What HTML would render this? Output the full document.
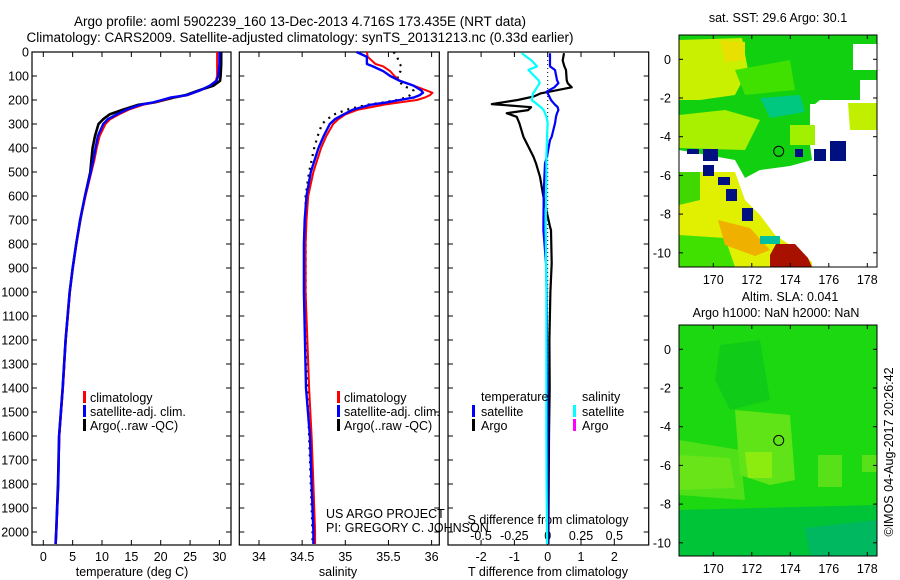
<!DOCTYPE html>
<html><head><meta charset="utf-8">
<style>
html,body{margin:0;padding:0;background:#fff;}
svg{display:block;font-family:"Liberation Sans",sans-serif;}
text{font-size:12.5px;fill:#000;}
</style></head>
<body>
<svg id="fig" width="900" height="580" viewBox="0 0 900 580" xmlns="http://www.w3.org/2000/svg">
<text x="300" y="26" text-anchor="middle" style="font-size:13.5px">Argo profile: aoml 5902239_160 13-Dec-2013 4.716S 173.435E (NRT data)</text>
<text x="300" y="42" text-anchor="middle" style="font-size:13.5px">Climatology: CARS2009. Satellite-adjusted climatology: synTS_20131213.nc (0.33d earlier)</text>

<g>
<text x="778" y="22" text-anchor="middle">sat. SST: 29.6 Argo: 30.1</text>
<rect x="679" y="35" width="198" height="232" fill="#fff"/>
<polygon fill="#10d010" points="679,35 877,35 877,44 853,44 853,70 877,70 877,80 860,80 860,100 820,100 815,104 810,104 810,125 790,125 790,145 810,145 812,160 790,166 760,170 745,178 735,160 679,150"/>
<polygon fill="#c8f000" points="679,40 742,38 748,70 735,95 700,100 679,100"/>
<polygon fill="#e8e000" points="720,40 745,42 745,60 725,62"/>
<polygon fill="#a8f000" points="679,115 725,110 760,120 745,150 679,148"/>
<polygon fill="#00c880" points="760,98 800,95 805,112 770,118"/>
<polygon fill="#40e000" points="735,70 790,60 795,90 745,95"/>
<polygon fill="#c0f000" points="848,103 877,103 877,130 850,130"/>
<polygon fill="#a0f000" points="790,125 815,125 815,145 790,145"/>
<polygon fill="#e0f000" points="679,172 735,172 745,200 760,215 775,235 790,245 812,262 812,267 679,267"/>
<polygon fill="#40e000" points="679,235 725,238 735,267 679,267"/>
<polygon fill="#40d800" points="679,172 700,172 700,200 679,205"/>
<polygon fill="#f0b000" points="718,220 750,228 770,250 755,256 725,245"/>
<polygon fill="#00c0a0" points="760,236 780,236 780,244 760,244"/>
<polygon fill="#a81000" points="776,244 795,244 808,258 812,267 770,267 770,255"/>
<g fill="#001080">
<rect x="687" y="149" width="12" height="5"/><rect x="703" y="149" width="15" height="12"/><rect x="703" y="165" width="11" height="11"/>
<rect x="814" y="149" width="12" height="12"/><rect x="830" y="141" width="16" height="20"/><rect x="795" y="149" width="8" height="8"/>
<rect x="718" y="177" width="12" height="8"/><rect x="726" y="189" width="11" height="12"/><rect x="742" y="208" width="11" height="13"/>
</g>
<circle cx="778.7" cy="151.3" r="5" fill="none" stroke="#000" stroke-width="1"/>
<rect x="679" y="35" width="198" height="232" fill="none" stroke="#000" stroke-width="1"/>
</g>

<g>
<text x="790" y="301" text-anchor="middle">Altim. SLA: 0.041</text>
<text x="776" y="317" text-anchor="middle">Argo h1000: NaN h2000: NaN</text>
<rect x="679" y="325" width="198" height="231" fill="#1cd810"/>
<polygon fill="#10cc18" points="720,345 760,340 770,400 730,410 715,380"/>
<polygon fill="#50e018" points="679,440 740,450 745,500 679,495"/>
<polygon fill="#68e418" points="679,455 730,458 735,488 679,490"/>
<polygon fill="#60e418" points="735,410 790,415 795,480 770,485 740,475"/>
<polygon fill="#8cec10" points="745,452 772,452 772,478 748,478"/>
<polygon fill="#58e018" points="818,455 842,455 842,487 818,487"/>
<polygon fill="#58e018" points="862,455 877,455 877,472 862,472"/>
<polygon fill="#00c438" points="679,510 877,505 877,556 679,556"/>
<polygon fill="#00b860" points="805,528 877,520 877,556 810,556"/>
<circle cx="778.7" cy="440.4" r="5" fill="none" stroke="#000" stroke-width="1"/>
<rect x="679" y="325" width="198" height="231" fill="none" stroke="#000" stroke-width="1"/>
</g>
<text transform="translate(893,452) rotate(-90)" text-anchor="middle">©IMOS 04-Aug-2017 20:26:42</text>

<g id="plots"></g>
</svg>
<script>
const depthsT = [0,50,100,120,140,160,180,190,200,210,220,240,260,280,300,350,400,450,500,600,700,800,900,1000,1200,1400,1600,1800,2000,2050];
const tempSat = [30.0,30.0,29.8,29.5,28.4,26.7,24.4,21.6,20.2,18.7,16.5,14.2,12.5,11.0,10.2,9.3,8.9,8.5,8.1,7.1,6.25,5.6,5.0,4.5,3.8,3.3,2.7,2.55,2.2,2.1];
const tempClim = [29.6,29.6,29.6,29.4,28.4,26.8,24.6,21.9,20.5,19.0,17.0,14.6,12.9,11.4,10.6,9.6,9.1,8.7,8.2,7.2,6.3,5.65,5.05,4.55,3.85,3.35,2.75,2.55,2.25,2.15];
const tempArgo = [30.3,30.3,30.2,30.1,29.0,26.5,24.2,22.2,20.6,19.0,16.2,13.6,11.3,10.2,9.4,8.8,8.4,8.2,8.0,7.1,6.3,5.6,5.0,4.5,3.8,3.3,2.7,2.5,2.2,2.1];
const depthsS = [0,20,50,60,80,100,120,140,160,170,180,190,200,210,220,240,260,280,300,350,400,500,600,700,800,1000,1400,1600,1800,2000,2050];
const salSat = [35.13,35.25,35.25,35.32,35.44,35.52,35.63,35.79,35.88,35.90,35.86,35.79,35.63,35.48,35.29,35.09,34.98,34.88,34.82,34.75,34.69,34.60,34.55,34.53,34.52,34.52,34.545,34.59,34.61,34.63,34.63];
const salClim = [35.25,35.26,35.35,35.44,35.52,35.57,35.63,35.79,35.94,36.01,35.98,35.92,35.83,35.63,35.44,35.15,35.0,34.92,34.86,34.78,34.72,34.63,34.57,34.55,34.54,34.54,34.58,34.61,34.63,34.65,34.65];
const salArgo = [35.56,35.6,35.63,35.65,35.64,35.60,35.62,35.67,35.79,35.78,35.75,35.70,35.60,35.44,35.25,35.02,34.87,34.79,34.73,34.68,34.64,34.58,34.54,34.54,34.54,34.54,34.56,34.58,34.60,34.62,34.62];
const depthsD = [5,36,60,75,117,130,147,165,172,186,200,217,230,242,255,270,297,353,367,436,464,520,603,728,742,880,1000,1200,1400,1600,1800,2000,2050];
const dTArgo = [0.49,0.45,0.5,0.55,0.57,0.6,0.72,0.07,-0.2,-0.43,-0.9,-1.68,-0.5,-0.59,-1.23,-0.93,-0.85,-0.73,-0.68,-0.43,-0.35,-0.23,-0.13,0.07,0.1,0.12,0.08,0.05,0.06,0.04,0.03,0.02,0.02];
const dTSat = [0.07,0.07,0.07,0.22,0.28,0.32,0.2,-0.03,0.0,0.05,0.1,0.2,0.3,0.32,0.28,0.25,0.22,0.12,0.07,-0.02,-0.08,-0.1,-0.12,-0.13,-0.13,-0.05,-0.03,-0.02,-0.01,0.0,0.0,0.0,0.0];
const dSSat = [-0.195,-0.12,-0.08,-0.145,-0.07,-0.06,-0.08,-0.1,-0.11,-0.115,-0.12,-0.08,-0.05,-0.03,-0.02,-0.01,0.0,-0.005,-0.005,-0.01,-0.01,-0.01,-0.012,-0.015,-0.015,-0.012,-0.01,-0.01,-0.01,-0.01,-0.008,-0.005,-0.005];
const depthTicks = [0,100,200,300,400,500,600,700,800,900,1000,1100,1200,1300,1400,1500,1600,1700,1800,1900,2000];
const tempTicks = [0,5,10,15,20,25,30];
const salTicks = [34,34.5,35,35.5,36];
const salTickLabels = ["34","34.5","35","35.5","36"];
const dTTicks = [-2,-1,0,1,2];
const dSTicks = [-0.5,-0.25,0,0.25,0.5];
const dSTickLabels = ["-0.5","-0.25","0","0.25","0.5"];

const NS='http://www.w3.org/2000/svg';
const root=document.getElementById('plots');
function mk(tag,attrs,parent){const e=document.createElementNS(NS,tag);for(const k in attrs)e.setAttribute(k,attrs[k]);(parent||root).appendChild(e);return e;}
const Y=d=>52+d*0.24;
const PT=52,PB=545;
const xT=v=>43.3+v*5.87;
const xS=v=>259+(v-34)*86.3;
const xDT=v=>547.7+v*33.3;
const xDS=v=>547.7+v*133.3;

function frame(x0,x1,name){
  const r=mk('rect',{x:x0,y:PT,width:x1-x0,height:PB-PT,fill:'none',stroke:'#000','stroke-width':1.2});
  
  
  for(const d of depthTicks){
    mk('line',{x1:x0,x2:x0+5,y1:Y(d),y2:Y(d),stroke:'#000'});
    mk('line',{x1:x1,x2:x1-5,y1:Y(d),y2:Y(d),stroke:'#000'});
  }
}
function xticks(vals,labels,sc,name,ty){
  vals.forEach((v,i)=>{
    mk('line',{x1:sc(v),x2:sc(v),y1:PT,y2:PT+5,stroke:'#000'});
    mk('line',{x1:sc(v),x2:sc(v),y1:PB,y2:PB-5,stroke:'#000'});
    const t=mk('text',{x:sc(v),y:ty||561,'text-anchor':'middle'});
    t.textContent=labels[i];
    
    
  });
}
function line(xs,ds,sc,color,w,name,dash){
  const pts=xs.map((v,i)=>sc(v).toFixed(1)+','+Y(ds[i]).toFixed(1)).join(' ');
  const a={points:pts,fill:'none',stroke:color,'stroke-width':w,'stroke-linejoin':'round'};
  if(dash)a['stroke-dasharray']=dash;
  const p=mk('polyline',a);
  
  
}
function txt(x,y,s,name,anchor){
  const t=mk('text',{x:x,y:y,'text-anchor':anchor||'start'});
  t.textContent=s;
  
  
}
function legBar(x,y,color,name){
  const r=mk('rect',{x:x,y:y-10,width:3,height:12,fill:color});
  
  
}

depthTicks.forEach(d=>{
  const t=mk('text',{x:29,y:Y(d)+4.5,'text-anchor':'end'});
  t.textContent=d;
  
  
});

frame(32,231,'temperature-panel');
xticks(tempTicks,tempTicks.map(String),xT,'temperature');
txt(132,576,'temperature (deg C)','temperature-axis-title','middle');
line(tempArgo,depthsT,xT,'#000',2.6,'temp-argo-line');
line(tempClim,depthsT,xT,'#ff0000',2,'temp-climatology-line');
line(tempSat,depthsT,xT,'#0000ff',2.4,'temp-satellite-line');
legBar(83,401,'#ff0000','legend-climatology-swatch');txt(90,402,'climatology','legend-climatology');
legBar(83,415,'#0000ff','legend-satellite-swatch');txt(90,416,'satellite-adj. clim.','legend-satellite');
legBar(83,429,'#000','legend-argo-swatch');txt(90,430,'Argo(..raw -QC)','legend-argo');

frame(239.3,439.3,'salinity-panel');
xticks(salTicks,salTickLabels,xS,'salinity');
txt(338,576,'salinity','salinity-axis-title','middle');
line(salArgo,depthsS,xS,'#000',2.2,'sal-argo-line','2 5');
line(salClim,depthsS,xS,'#ff0000',2,'sal-climatology-line');
line(salSat,depthsS,xS,'#0000ff',2.4,'sal-satellite-line');
legBar(337,401,'#ff0000','legend2-climatology-swatch');txt(344,402,'climatology','legend2-climatology');
legBar(337,415,'#0000ff','legend2-satellite-swatch');txt(344,416,'satellite-adj. clim.','legend2-satellite');
legBar(337,429,'#000','legend2-argo-swatch');txt(344,430,'Argo(..raw -QC)','legend2-argo');
txt(326,518,'US ARGO PROJECT','project-label');
txt(326,532,'PI: GREGORY C. JOHNSON','pi-label');

frame(448,648.7,'difference-panel');
dTTicks.forEach(v=>{
  mk('line',{x1:xDT(v),x2:xDT(v),y1:PT,y2:PT+5,stroke:'#000'});
  mk('line',{x1:xDT(v),x2:xDT(v),y1:PB,y2:PB-5,stroke:'#000'});
  const t=mk('text',{x:xDT(v),y:561,'text-anchor':'middle'});
  t.textContent=v;
  
  
});
dSTicks.forEach((v,i)=>{
  const t=mk('text',{x:xDS(v),y:540,'text-anchor':'middle'});
  t.textContent=dSTickLabels[i];
  
  
});
txt(548,524,'S difference from climatology','s-diff-axis-title','middle');
txt(548,576,'T difference from climatology','t-diff-axis-title','middle');
mk('line',{x1:xDT(0),x2:xDT(0),y1:PT,y2:PB,stroke:'#000','stroke-width':1,'stroke-dasharray':'1 3'});
line(dTArgo,depthsD,xDT,'#000',2.2,'t-diff-argo-line');
line(dTSat,depthsD,xDT,'#0000ff',2.2,'t-diff-satellite-line');
line(dSSat,depthsD,xDS,'#00ffff',2.2,'s-diff-satellite-line');
txt(481,401,'temperature','legend3-temperature-header');
txt(582,401,'salinity','legend3-salinity-header');
legBar(472,415,'#0000ff','legend3-t-satellite-swatch');txt(481,416,'satellite','legend3-t-satellite');
legBar(472,429,'#000','legend3-t-argo-swatch');txt(481,430,'Argo','legend3-t-argo');
legBar(573,415,'#00ffff','legend3-s-satellite-swatch');txt(582,416,'satellite','legend3-s-satellite');
legBar(573,429,'#ff00ff','legend3-s-argo-swatch');txt(582,430,'Argo','legend3-s-argo');

function mapAxes(x0,x1,y0,y1,latTicks,lat0y,pre){
  const lon=v=>713.3+(v-170)*19.25;
  const lat=v=>lat0y-v*19.35;
  [170,172,174,176,178].forEach(v=>{
    mk('line',{x1:lon(v),x2:lon(v),y1:y0,y2:y0+4,stroke:'#000'});
    mk('line',{x1:lon(v),x2:lon(v),y1:y1,y2:y1-4,stroke:'#000'});
    const t=mk('text',{x:lon(v),y:y1+17,'text-anchor':'middle'});
    t.textContent=v;
    
    
  });
  latTicks.forEach(v=>{
    mk('line',{x1:x0,x2:x0+4,y1:lat(v),y2:lat(v),stroke:'#000'});
    mk('line',{x1:x1,x2:x1-4,y1:lat(v),y2:lat(v),stroke:'#000'});
    const t=mk('text',{x:x0-8,y:lat(v)+4.5,'text-anchor':'end'});
    t.textContent=v;
    
    
  });
}
mapAxes(679,877,35,267,[0,-2,-4,-6,-8,-10],59.3,'sst-map');
mapAxes(679,877,325,556,[0,-2,-4,-6,-8,-10],349.3,'sla-map');
</script>
</body></html>
